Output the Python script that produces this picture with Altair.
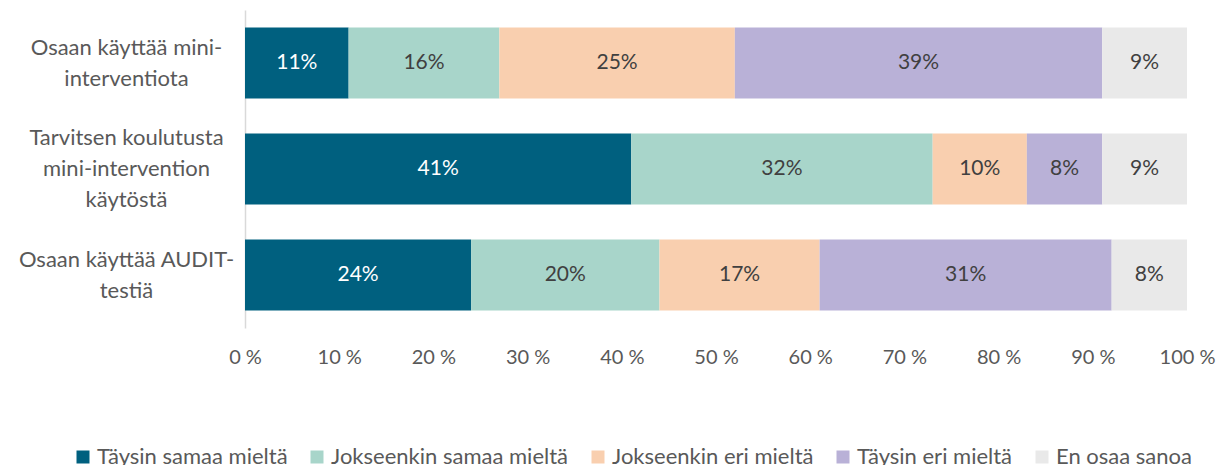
import altair as alt
import pandas as pd

statements = [
    "Osaan käyttää mini-|interventiota",
    "Tarvitsen koulutusta|mini-intervention|käytöstä",
    "Osaan käyttää AUDIT-|testiä",
]
categories = [
    "Täysin samaa mieltä",
    "Jokseenkin samaa mieltä",
    "Jokseenkin eri mieltä",
    "Täysin eri mieltä",
    "En osaa sanoa",
]
colors = ["#00607F", "#A8D5CA", "#F9CFAF", "#B9B1D7", "#E9E9E9"]

row_mini = [11, 16, 25, 39, 9]
row_koulutus = [41, 32, 10, 8, 9]
row_audit = [24, 20, 17, 31, 8]
rows = [row_mini, row_koulutus, row_audit]

tick_values = [0, 10, 20, 30, 40, 50, 60, 70, 80, 90, 100]

records = []
for s, vals in zip(statements, rows):
    for i, (c, v) in enumerate(zip(categories, vals)):
        records.append({"statement": s, "category": c, "order": i, "value": v})
df = pd.DataFrame(records)

FONT = "Lato"
GRAY = "#595959"
LH = 31

base = alt.Chart(df).transform_stack(
    stack="value",
    groupby=["statement"],
    as_=["x0", "x1"],
    sort=[alt.SortField("order", order="ascending")],
).transform_calculate(
    mid="(datum.x0 + datum.x1) / 2",
    label="datum.value + '%'",
)

yenc = alt.Y(
    "statement:N",
    sort=statements,
    scale=alt.Scale(paddingInner=0.33, paddingOuter=0.165),
    axis=alt.Axis(
        title=None,
        ticks=False,
        domainColor="#D9D9D9",
        domainWidth=1.5,
        labelAlign="center",
        labelBaseline="middle",
        labelPadding=119,
        labelExpr="split(datum.label, '|')",
        labelLineHeight=LH,
        labelFontSize=22,
        labelFont=FONT,
        labelColor=GRAY,
        labelLimit=400,
        labelOffset={
            "condition": {
                "test": "length(split(datum.value, '|')) == 3",
                "value": -LH,
            },
            "value": -LH / 2,
        },
    ),
)

bars = base.mark_bar().encode(
    y=yenc,
    x=alt.X(
        "x0:Q",
        scale=alt.Scale(domain=[0, 100], nice=False),
        axis=alt.Axis(
            title=None,
            domain=False,
            ticks=False,
            grid=False,
            values=tick_values,
            labelExpr="datum.value + ' %'",
            labelFontSize=20,
            labelFont=FONT,
            labelColor=GRAY,
            labelPadding=19,
            labelFlush=False,
        ),
    ),
    x2="x1:Q",
    color=alt.Color(
        "category:N",
        sort=categories,
        scale=alt.Scale(domain=categories, range=colors),
        legend=alt.Legend(
            title=None,
            orient="none",
            legendX=-173,
            legendY=436,
            direction="horizontal",
            columns=5,
            symbolType="square",
            symbolSize=169,
            symbolStrokeWidth=0,
            symbolOpacity=1,
            labelFontSize=22,
            labelFont=FONT,
            labelColor=GRAY,
            labelOffset=3,
            columnPadding=18,
            labelLimit=400,
        ),
    ),
)

text = base.mark_text(fontSize=21, font=FONT).encode(
    y=alt.Y("statement:N", sort=statements),
    x=alt.X("mid:Q"),
    text="label:N",
    color=alt.condition(
        alt.datum.category == categories[0], alt.value("white"), alt.value("#404040")
    ),
)

chart = alt.layer(bars, text).properties(
    width=942,
    height=318,
    autosize=alt.AutoSizeParams(type="none"),
    padding={"left": 237, "top": 2, "right": 31, "bottom": 137},
    background="white",
).configure_view(stroke=None)

chart.save("out.html", embed_options={"renderer": "svg", "actions": False})
